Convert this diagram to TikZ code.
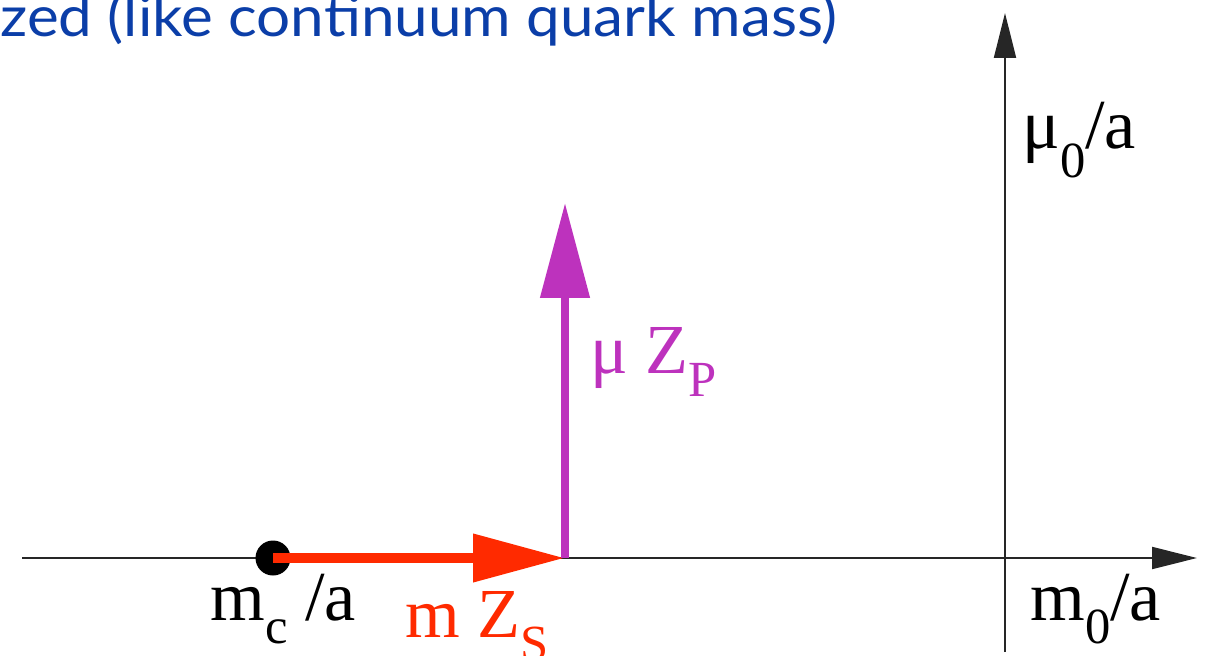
\documentclass[tikz,border=0pt]{standalone}
\usepackage{fontspec}
\setmainfont{Liberation Serif}
\newfontfamily\titlefont{Lato}
\usepackage{tikz}
\usetikzlibrary{positioning, arrows.meta}
\definecolor{slideBlue}{HTML}{0B3EA8}
\definecolor{massRed}{HTML}{FF2A00}
\definecolor{twistMagenta}{HTML}{BD32BD}
\newcommand{\lowsub}[2][0.33em]{\raisebox{-#1}{\scalebox{0.72}{#2}}}

\begin{document}
\begin{tikzpicture}[
    x=0.02cm, y=-0.02cm,
    % --- estilos ---
    axis/.style={draw=black!85, line width=1.1pt,
                 -{Triangle[length=0.9cm, width=0.44cm]}},
    label/.style={inner sep=0pt, anchor=base west, font=\fontsize{40}{44}\selectfont},
    mvec/.style={draw=massRed, line width=0.21cm,
                 -{Triangle[length=1.84cm, width=0.92cm]}},
    muvec/.style={draw=twistMagenta, line width=0.16cm,
                  -{Triangle[length=1.9cm, width=0.96cm]}},
    critical/.style={circle, fill=black, inner sep=0pt, minimum size=0.7cm}
]
\useasboundingbox (0,0) rectangle (1214,656);

% ====== Titulo (cortado) ======
\node[inner sep=0pt, anchor=base west, text=slideBlue,
      font=\titlefont\fontsize{32}{36}\selectfont] (title) at (0,36)
      {\scalebox{1.07}[1]{zed (like continuum quark mass)}};

% ====== Ejes ======
\coordinate (xstart) at (22,558);
\coordinate (xend) at (1197,558);
\coordinate (ystart) at (1005,652);
\coordinate (yend) at (1005,13);

\draw[axis] (xstart) -- (xend);
\draw[axis] (ystart) -- (yend);

\node[label] (m0) at (1030,620) {m\lowsub{0}/a};
\node[label] (mu0) at (1022,148) {μ\lowsub[0.42em]{0}/a};

% ====== Masa critica y vectores ======
\node[critical] (mc) at (273,558) {};
\coordinate (corner) at (565,558);
\coordinate (tip) at (565,203);

\draw[mvec] (mc.center) -- (corner);
\draw[muvec] (corner) -- (tip);

\node[label] (mclabel) at (210,620) {m\lowsub{c} /a};
\node[label, text=massRed] (mzs) at (405,637) {m Z\lowsub{S}};
\node[label, text=twistMagenta] (muzp) at (590,373) {μ Z\lowsub{P}};

\end{tikzpicture}
\end{document}
